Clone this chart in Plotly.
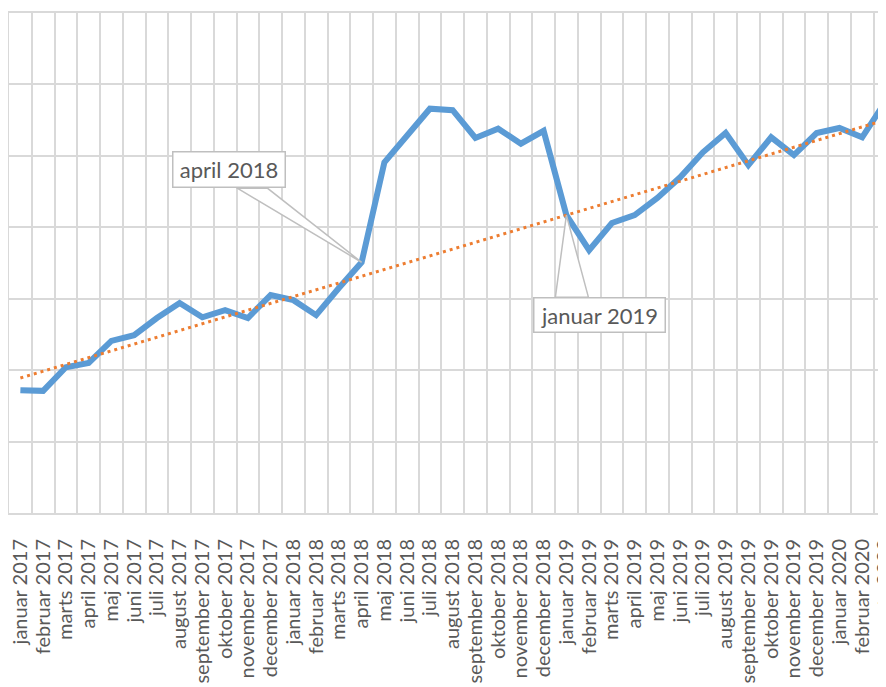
import plotly.graph_objects as go

months = ["januar", "februar", "marts", "april", "maj", "juni", "juli", "august",
          "september", "oktober", "november", "december"]
years = [2017, 2018, 2019, 2020]
labels = [f"{m} {y}" for y in years for m in months][:39]

values = [1.72, 1.71, 2.04, 2.10, 2.41, 2.49, 2.73, 2.94, 2.74, 2.84,
          2.73, 3.05, 2.98, 2.77, 3.15, 3.51, 4.91, 5.29, 5.66, 5.64,
          5.25, 5.38, 5.17, 5.35, 4.17, 3.68, 4.06, 4.17, 4.41, 4.70,
          5.05, 5.32, 4.87, 5.26, 5.01, 5.32, 5.39, 5.26, 5.75]

trend_start = 1.89
trend_end = 5.50

callouts = ["april 2018", "januar 2019"]

x = list(range(len(labels)))
GRID = "#D9D9D9"
TXT = "#595959"
BOX = "#BFBFBF"
FONT = "Lato"

fig = go.Figure()
fig.add_trace(go.Scatter(x=x, y=values, mode="lines",
                         line=dict(color="#5B9BD5", width=6),
                         hoverinfo="skip", showlegend=False))
fig.add_trace(go.Scatter(x=[x[0], x[-1]], y=[trend_start, trend_end], mode="lines",
                         line=dict(color="#ED7D31", width=3, dash="3px,4px"),
                         hoverinfo="skip", showlegend=False))

# callouts: wedge shapes anchored at data points (pixel offsets)
idx_a = labels.index(callouts[0])
idx_b = labels.index(callouts[1])
fig.add_shape(type="path", xref="x", yref="y", xsizemode="pixel", ysizemode="pixel",
              xanchor=idx_a, yanchor=values[idx_a],
              path="M -124,74 L 0,0 L -94,74 Z",
              line=dict(color=BOX, width=1.5), fillcolor="white", layer="above")
fig.add_shape(type="path", xref="x", yref="y", xsizemode="pixel", ysizemode="pixel",
              xanchor=idx_b, yanchor=values[idx_b],
              path="M -11,-82 L 0,0 L 22,-82 Z",
              line=dict(color=BOX, width=1.5), fillcolor="white", layer="above")

fig.add_annotation(x=idx_a, y=values[idx_a], xref="x", yref="y", text=callouts[0],
                   showarrow=True, arrowcolor="rgba(0,0,0,0)", ax=-133, ay=-93,
                   width=111, height=34, borderpad=0, bgcolor="white",
                   bordercolor=BOX, borderwidth=1.5,
                   font=dict(family=FONT, size=22, color=TXT))
fig.add_annotation(x=idx_b, y=values[idx_b], xref="x", yref="y", text=callouts[1],
                   showarrow=True, arrowcolor="rgba(0,0,0,0)", ax=33, ay=100,
                   width=130, height=33, borderpad=0, bgcolor="white",
                   bordercolor=BOX, borderwidth=1.5,
                   font=dict(family=FONT, size=22, color=TXT))

fig.update_layout(
    width=886, height=687,
    margin=dict(l=1, r=0, t=5, b=182),
    paper_bgcolor="white", plot_bgcolor="white",
    font=dict(family=FONT, color=TXT),
    xaxis=dict(range=[-0.5, 38.4], tickmode="array", tickvals=x, ticktext=labels,
               tickangle=-90, tickfont=dict(family=FONT, size=20, color=TXT),
               showgrid=False, ticks="outside", ticklen=8, tickcolor="rgba(0,0,0,0)",
               showline=True, mirror=True,
               linecolor=GRID, linewidth=2, zeroline=False, automargin=False,
               ticklabelstandoff=8, ticklabeloverflow="allow",
               minor=dict(tickvals=[i - 0.5 for i in range(len(labels) + 1)],
                          showgrid=True, gridcolor=GRID, gridwidth=2, ticks="")),
    yaxis=dict(range=[0, 7], dtick=1, showticklabels=False, showgrid=True,
               gridcolor=GRID, gridwidth=2, zeroline=False, ticks="", automargin=False,
               showline=True, linecolor=GRID, linewidth=2),
)

fig.write_html("out.html")
